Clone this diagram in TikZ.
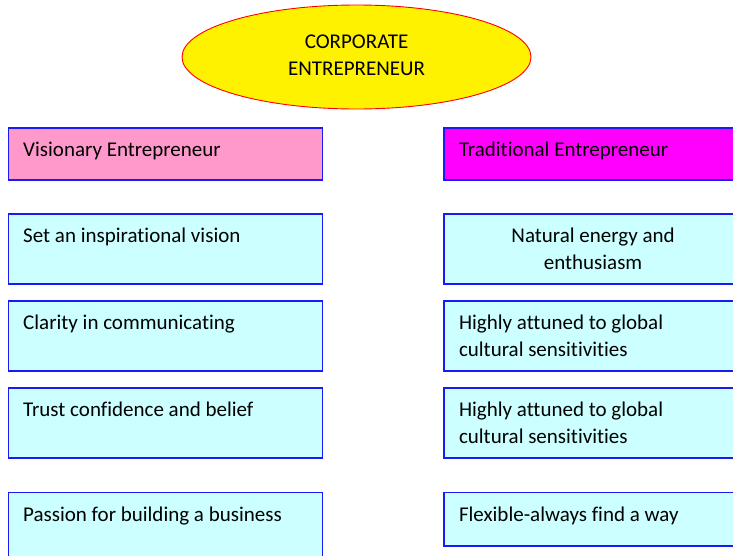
\documentclass[tikz,border=0pt]{standalone}
\usepackage{fontspec}
\setmainfont{Carlito}[Ligatures={NoCommon,NoDiscretionary,NoRare}]
\usetikzlibrary{positioning,shapes.geometric}

\definecolor{boxline}{HTML}{1A1AF5}
\definecolor{headpink}{HTML}{FF99CC}
\definecolor{headmagenta}{HTML}{FF00FF}
\definecolor{itemcyan}{HTML}{CCFFFF}

\newcommand{\boxfont}{\fontsize{21pt}{27pt}\selectfont}

\begin{document}
\begin{tikzpicture}[x=1pt,y=-1pt,
  panel/.style={draw=boxline,line width=1.5pt,rectangle,inner sep=0pt,anchor=north west},
  head/.style={panel,minimum width=#1,minimum height=52pt},
  item/.style={panel,fill=itemcyan,minimum width=#1,minimum height=70pt},
  label/.style={anchor=north west,inner sep=0pt,font=\boxfont,align=left},
  hub/.style={ellipse,draw=red,line width=0.9pt,fill=yellow,minimum width=349pt,minimum height=104pt,inner sep=0pt,font=\boxfont,align=center}]
  \useasboundingbox (0,0) rectangle (733,555);
  \clip (0,0) rectangle (733,555);

  % central ellipse
  \node[hub] (hub) at (356.5,57) {\strut CORPORATE\\ENTREPRENEUR\strut};

  % left column
  \node[head=314pt,fill=headpink] (vis) at (7.5,127) {};
  \node[item=314pt] (l1) at (7.5,213.3) {};
  \node[item=314pt] (l2) at (7.5,300) {};
  \node[item=314pt] (l3) at (7.5,387) {};
  \node[item=314pt] (l4) at (7.5,491.7) {};

  % right column
  \node[head=298pt,fill=headmagenta] (trad) at (443.3,127) {};
  \node[item=298pt] (r1) at (443.3,213.3) {};
  \node[item=298pt] (r2) at (443.3,300) {};
  \node[item=298pt] (r3) at (443.3,387) {};
  \node[panel,fill=itemcyan,minimum width=298pt,minimum height=53.3pt] (r4) at (443.3,491.7) {};

  % texts
  \node[label] (tvis) at ([xshift=15.5pt,yshift=-10.2pt]vis.north west) {\strut Visionary Entrepreneur};
  \node[label] (tl1) at ([xshift=15.5pt,yshift=-10.2pt]l1.north west) {\strut Set an inspirational vision};
  \node[label] (tl2) at ([xshift=15.5pt,yshift=-10.2pt]l2.north west) {\strut Clarity in communicating};
  \node[label] (tl3) at ([xshift=15.5pt,yshift=-10.2pt]l3.north west) {\strut Trust confidence and belief};
  \node[label] (tl4) at ([xshift=15.5pt,yshift=-10.2pt]l4.north west) {\strut Passion for building a business};

  \node[label] (ttrad) at ([xshift=15.5pt,yshift=-10.2pt]trad.north west) {\strut Traditional Entrepreneur};
  \node[label,anchor=north,align=center] (tr1) at ([yshift=-10.2pt]r1.north) {\strut Natural energy and\\enthusiasm};
  \node[label] (tr2) at ([xshift=15.5pt,yshift=-10.2pt]r2.north west) {\strut Highly attuned to global\\cultural sensitivities};
  \node[label] (tr3) at ([xshift=15.5pt,yshift=-10.2pt]r3.north west) {\strut Highly attuned to global\\cultural sensitivities};
  \node[label] (tr4) at ([xshift=15.5pt,yshift=-10.2pt]r4.north west) {\strut Flexible-always find a way};
\end{tikzpicture}
\end{document}
